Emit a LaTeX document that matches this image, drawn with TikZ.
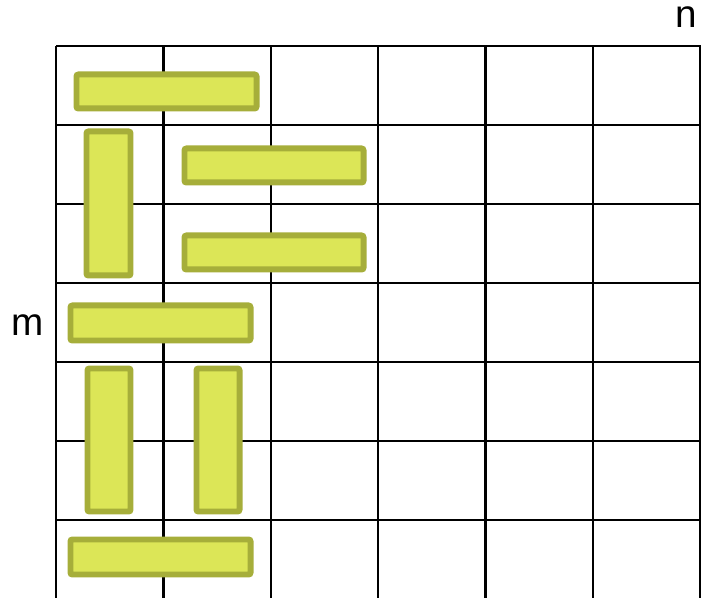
\documentclass[tikz,border=0pt]{standalone}
\usepackage{fontspec}
\setmainfont{Liberation Sans}
\definecolor{barfill}{RGB}{220,230,87}
\definecolor{barline}{RGB}{166,174,58}
\tikzset{
  bar/.style={fill=barfill, draw=barline, line width=0.12cm, rounded corners=0.04cm},
  gridline/.style={line width=0.05cm, black},
  dimlabel/.style={font=\fontsize{22}{26}\selectfont, inner sep=0pt, anchor=base}
}
\begin{document}
\begin{tikzpicture}[x=0.02cm, y=-0.02cm]
\useasboundingbox (0,0) rectangle (701,598);
% grid of cells
\foreach \i in {0,...,6} {
  \draw[gridline] ({56+107.4*\i},46) -- ({56+107.4*\i},598);
}
\foreach \j in {0,...,6} {
  \draw[gridline] (56,{46+79*\j}) -- (701,{46+79*\j});
}
% bars
\draw[bar] (76.5,74.5) rectangle (256.5,108.5);
\draw[bar] (86.5,131.5) rectangle (130.5,275.5);
\draw[bar] (184.5,148.5) rectangle (363.5,182.5);
\draw[bar] (184.5,235.5) rectangle (363.5,269.5);
\draw[bar] (70.5,305.5) rectangle (250.5,340.5);
\draw[bar] (87.5,368.5) rectangle (130.5,511.5);
\draw[bar] (196.5,368.5) rectangle (239.5,511.5);
\draw[bar] (70.5,539.5) rectangle (250.5,574.5);
% labels
\node[dimlabel] (n) at (686,28) {n};
\node[dimlabel] (m) at (28,336) {m};
\end{tikzpicture}
\end{document}
